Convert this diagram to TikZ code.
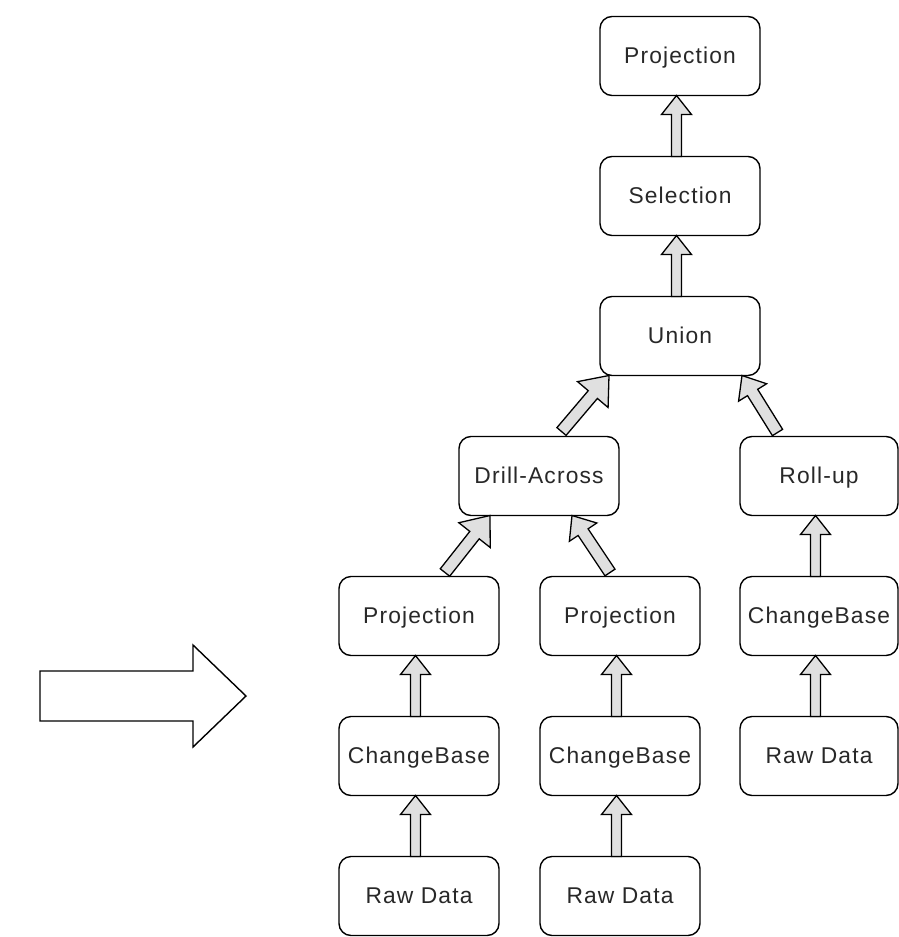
\documentclass[tikz,border=0pt]{standalone}
\usepackage{fontspec}
\setmainfont{Liberation Sans}
\newfontfamily\boxfont[LetterSpace=5]{Liberation Sans}
\usetikzlibrary{calc}
\definecolor{arrfill}{RGB}{224,224,224}
\definecolor{txt}{RGB}{40,40,40}
\tikzset{
  opbox/.style={draw=black, line width=1.4pt, rounded corners=12pt,
    minimum width=160pt, minimum height=79pt, inner sep=0pt, outer sep=0pt,
    text height=15pt, text depth=0pt,
    font=\boxfont\fontsize{22.8}{27}\selectfont, text=txt, fill=white},
  fatarrow/.style={draw=black, line width=1.3pt, fill=arrfill, line join=miter},
  bigarrow/.style={draw=black, line width=1.4pt, fill=white, line join=miter},
}
% #1 start, #2 tip, #3 shaft half width, #4 head half width, #5 head length
\newcommand\fatarr[5]{%
  \coordinate (H) at ($(#2)!#5pt!(#1)$);
  \path[fatarrow] ($(#1)!#3pt!90:(#2)$) -- ($(H)!#3pt!90:(#2)$)
    -- ($(H)!#4pt!90:(#2)$) -- (#2) -- ($(H)!#4pt!-90:(#2)$)
    -- ($(H)!#3pt!-90:(#2)$) -- ($(#1)!#3pt!-90:(#2)$) -- cycle;
}
\begin{document}
\begin{tikzpicture}[x=1pt,y=-1pt]
\useasboundingbox (0,0) rectangle (899,937);
\fill[white] (0,0) rectangle (899,937);

% boxes
\node[opbox] (proj0) at (680,56) {Projection};
\node[opbox] (sel) at (680,196) {Selection};
\node[opbox] (union) at (680,336) {Union};
\node[opbox] (drill) at (539,476) {Drill-Across};
\node[opbox, minimum width=158pt] (roll) at (819,476) {Roll-up};
\node[opbox] (projL) at (419,616) {Projection};
\node[opbox] (projM) at (620,616) {Projection};
\node[opbox, minimum width=158pt] (cbR) at (819,616) {ChangeBase};
\node[opbox] (cbL) at (419,756) {ChangeBase};
\node[opbox] (cbM) at (620,756) {ChangeBase};
\node[opbox, minimum width=158pt] (rawR) at (819,756) {Raw Data};
\node[opbox] (rawL) at (419,896) {Raw Data};
\node[opbox] (rawM) at (620,896) {Raw Data};

% vertical arrows
\foreach \lo/\up in {sel/proj0, union/sel, cbL/projL, rawL/cbL, cbM/projM, rawM/cbM, cbR/roll, rawR/cbR}{
  \coordinate (vs) at ($(\lo.north)+(-3.5,0)$);
  \coordinate (vt) at ($(\up.south)+(-3.5,0)$);
  \fatarr{vs}{vt}{5}{15}{19}
}

% diagonal arrows
\coordinate (d1s) at ($(drill.north)+(22.5,-5)$);
\coordinate (d1t) at ($(union.south)+(-71,0)$);
\fatarr{d1s}{d1t}{6}{20}{25}
\coordinate (d2s) at ($(roll.north)+(-41.5,-4)$);
\coordinate (d2t) at ($(union.south)+(62,0)$);
\fatarr{d2s}{d2t}{6}{16.5}{20}
\coordinate (d3s) at ($(projL.north)+(26,-4)$);
\coordinate (d3t) at ($(drill.south)+(-49,0)$);
\fatarr{d3s}{d3t}{6}{20}{25}
\coordinate (d4s) at ($(projM.north)+(-10,-4)$);
\coordinate (d4t) at ($(drill.south)+(33,0)$);
\fatarr{d4s}{d4t}{6}{16.5}{20}

% big arrow
\draw[bigarrow] (40,671) -- (193,671) -- (193,645) -- (246,696) -- (193,747) -- (193,721) -- (40,721) -- cycle;
\end{tikzpicture}
\end{document}
